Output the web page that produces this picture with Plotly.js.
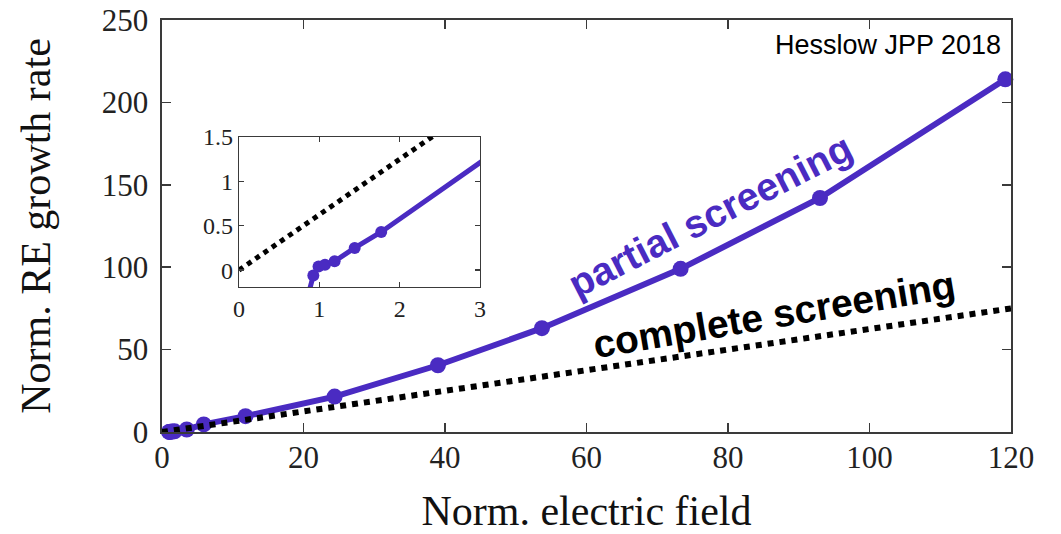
<!DOCTYPE html>
<html>
<head>
<meta charset="utf-8">
<script src="https://cdn.plot.ly/plotly-3.0.1.min.js"></script>
<style>html,body{margin:0;padding:0;background:#fff;}#chart{width:1061px;height:534px;}</style>
</head>
<body>
<div id="chart"></div>
<script>
// Normalized electric field values (E/Ec) for the partial-screening model
const fieldPartial = [0.87, 0.925, 0.99, 1.07, 1.19, 1.44, 1.77, 3.5, 5.9, 11.8, 24.4, 39.0, 53.7, 73.3, 93.0, 119.2];
// Normalized runaway-electron growth rate, partial screening
const growthPartial = [-0.25, -0.06, 0.04, 0.06, 0.10, 0.25, 0.43, 1.53, 4.6, 9.6, 21.5, 40.5, 63.0, 99.0, 142.0, 214.0];
// Whether each partial-screening sample is shown with a marker
const showMarker = [false, true, true, true, true, true, true, true, true, true, true, true, true, true, true, true];
// Complete screening (straight line)
const fieldComplete = [0, 120];
const growthComplete = [0, 75];

const mainXTicks = [0, 20, 40, 60, 80, 100, 120];
const mainYTicks = [0, 50, 100, 150, 200, 250];
const insetXTicks = [0, 1, 2, 3];
const insetYTicks = [0, 0.5, 1, 1.5];
const insetYTickText = ['0', '0.5', '1', '1.5'];

const labels = {
  xTitle: 'Norm. electric field',
  yTitle: 'Norm. RE growth rate',
  partial: 'partial screening',
  complete: 'complete screening',
  source: 'Hesslow JPP 2018'
};

const purple = '#4a2bc2';
const serif = '"Liberation Serif", "Times New Roman", serif';
const sans = 'Arial, "Liberation Sans", sans-serif';

const mainMarkerSizes = showMarker.map(s => s ? 16 : 0);
const insetMarkerSizes = showMarker.map(s => s ? 12 : 0);

const traces = [
  {
    x: fieldPartial.slice(1), y: growthPartial.slice(1), xaxis: 'x', yaxis: 'y',
    type: 'scatter', mode: 'lines+markers', cliponaxis: false,
    line: {color: purple, width: 6},
    marker: {color: purple, size: mainMarkerSizes.slice(1), opacity: 1, line: {width: 0}}, hoverinfo: 'skip'
  },
  {
    x: fieldComplete, y: growthComplete, xaxis: 'x', yaxis: 'y',
    type: 'scatter', mode: 'lines', cliponaxis: false,
    line: {color: '#000', width: 6, dash: '6px,6px'}, hoverinfo: 'skip'
  },
  {
    x: fieldPartial, y: growthPartial, xaxis: 'x2', yaxis: 'y2',
    type: 'scatter', mode: 'lines+markers', cliponaxis: true,
    line: {color: purple, width: 5},
    marker: {color: purple, size: insetMarkerSizes, opacity: 1, line: {width: 0}}, hoverinfo: 'skip'
  },
  {
    x: fieldComplete, y: growthComplete, xaxis: 'x2', yaxis: 'y2',
    type: 'scatter', mode: 'lines', cliponaxis: true,
    line: {color: '#000', width: 5, dash: '5px,5px'}, hoverinfo: 'skip'
  }
];

const axisCommon = {
  showgrid: false, zeroline: false, showline: true, mirror: 'ticks',
  linecolor: '#3a3a3a', linewidth: 1.6, ticks: 'inside', tickcolor: '#3a3a3a',
  tickwidth: 1.6, fixedrange: true
};

const layout = {
  width: 1061, height: 534,
  margin: {l: 162, r: 50, t: 20, b: 102},
  paper_bgcolor: '#fff', plot_bgcolor: '#fff',
  showlegend: false,
  xaxis: Object.assign({}, axisCommon, {
    range: [0, 120], tickvals: mainXTicks, ticklen: 9,
    tickfont: {family: serif, size: 31, color: '#222'},
    ticklabelstandoff: -3,
    title: {text: labels.xTitle, font: {family: serif, size: 42, color: '#111'}, standoff: 24}
  }),
  yaxis: Object.assign({}, axisCommon, {
    range: [0, 250], tickvals: mainYTicks, ticklen: 9,
    tickfont: {family: serif, size: 31, color: '#222'},
    ticklabelstandoff: 6,
    title: {text: labels.yTitle, font: {family: serif, size: 42, color: '#111'}, standoff: 38}
  }),
  xaxis2: Object.assign({}, axisCommon, {
    domain: [0.0907, 0.3746], anchor: 'y2',
    range: [0, 3], tickvals: insetXTicks, ticklen: 5, linewidth: 1.3, tickwidth: 1.3,
    tickfont: {family: serif, size: 24, color: '#222'}
  }),
  yaxis2: Object.assign({}, axisCommon, {
    domain: [0.352, 0.716], anchor: 'x2',
    range: [-0.19, 1.5], tickvals: insetYTicks, ticktext: insetYTickText, ticklen: 5,
    linewidth: 1.3, tickwidth: 1.3,
    tickfont: {family: serif, size: 24, color: '#222'}
  }),
  annotations: [
    {
      xref: 'x', yref: 'y', x: 77.5, y: 131.5, text: '<b>' + labels.partial + '</b>',
      showarrow: false, textangle: -27,
      font: {family: sans, size: 39, color: purple}
    },
    {
      xref: 'x', yref: 'y', x: 86.5, y: 71, text: '<b>' + labels.complete + '</b>',
      showarrow: false, textangle: -9.6,
      font: {family: sans, size: 39, color: '#000'}
    },
    {
      xref: 'paper', yref: 'paper', x: 0.99, y: 0.98, xanchor: 'right', yanchor: 'top',
      text: labels.source, showarrow: false,
      font: {family: sans, size: 27, color: '#000'}
    }
  ]
};

Plotly.newPlot('chart', traces, layout, {staticPlot: true, displayModeBar: false});
</script>
</body>
</html>
